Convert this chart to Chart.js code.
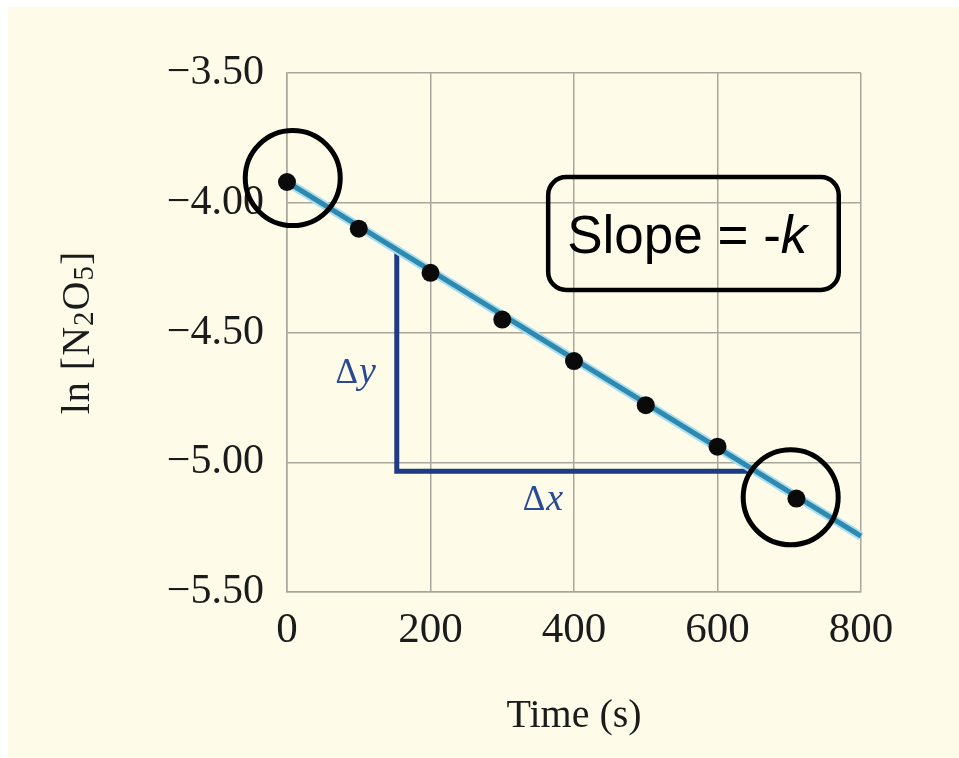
<!DOCTYPE html>
<html>
<head>
<meta charset="utf-8">
<script src="https://cdn.jsdelivr.net/npm/chart.js@4/dist/chart.umd.min.js"></script>
<style>
  html, body { margin: 0; padding: 0; background: #fefce9; overflow: hidden; }
  #wrap { width: 959px; height: 758px; }
</style>
</head>
<body>
<div id="wrap"><canvas id="c" width="959" height="758"></canvas></div>
<script>
// Measured ln[N2O5] values over time
const times = [0, 100, 200, 300, 400, 500, 600, 710];
const lnConc = [-3.92, -4.10, -4.27, -4.45, -4.61, -4.78, -4.94, -5.14];

// Straight-line fit through the data
const fitTimes = [0, 800];
const fitValues = [-3.92, -5.285];

// Rise/run triangle under the fit line
const triTimes = [153, 153, 645];
const triValues = [-4.19, -5.035, -5.035];

// Highlight rings around the first and last measurements
const ringTimes = [8, 702];
const ringValues = [-3.905, -5.135];

// Axis tick values
const xTickValues = [0, 200, 400, 600, 800];
const yTickValues = [-5.5, -5.0, -4.5, -4.0, -3.5];

const pairs = (xs, ys) => xs.map((x, i) => ({ x: x, y: ys[i] }));

const SERIF = '"Liberation Serif", "Times New Roman", serif';
const SANS = '"Liberation Sans", Arial, sans-serif';
const INK = '#1b1b1b';
const GRID = '#a9a69b';
const NAVY = '#1d3c84';

const backdrop = {
  id: 'backdrop',
  beforeDraw(chart) {
    const ctx = chart.ctx;
    ctx.save();
    ctx.fillStyle = '#ffffff';
    ctx.fillRect(0, 0, chart.width, chart.height);
    ctx.fillStyle = '#fefce9';
    ctx.fillRect(8, 7, chart.width - 8, chart.height - 7);
    ctx.restore();
  }
};

const extras = {
  id: 'extras',
  afterDraw(chart) {
    const ctx = chart.ctx;
    const xs = chart.scales.x, ys = chart.scales.y;
    const area = chart.chartArea;
    ctx.save();

    // y axis title with subscripts, rotated
    ctx.translate(78, (area.top + area.bottom) / 2);
    ctx.rotate(-Math.PI / 2);
    ctx.fillStyle = INK;
    ctx.textBaseline = 'middle';
    ctx.letterSpacing = '1px';
    const parts = [
      { t: 'ln [N', size: 40, dy: 0 },
      { t: '2', size: 29, dy: 7 },
      { t: 'O', size: 40, dy: 0 },
      { t: '5', size: 29, dy: 7 },
      { t: ']', size: 40, dy: 0 }
    ];
    let total = 0;
    parts.forEach(p => { ctx.font = p.size + 'px ' + SERIF; p.w = ctx.measureText(p.t).width; total += p.w; });
    let px = -total / 2;
    parts.forEach(p => { ctx.font = p.size + 'px ' + SERIF; ctx.textAlign = 'left'; ctx.fillText(p.t, px, p.dy); px += p.w; });
    ctx.setTransform(1, 0, 0, 1, 0, 0);
    ctx.letterSpacing = '0px';

    // x axis title
    ctx.font = '40px ' + SERIF;
    ctx.textAlign = 'center';
    ctx.textBaseline = 'middle';
    ctx.fillStyle = INK;
    ctx.fillText('Time (s)', (area.left + area.right) / 2, 716);

    // Δy and Δx labels
    const drawDelta = (t, v, letter) => {
      const cx = xs.getPixelForValue(t), cy = ys.getPixelForValue(v);
      ctx.fillStyle = '#2a4a93';
      ctx.textBaseline = 'alphabetic';
      ctx.textAlign = 'left';
      ctx.font = '35px ' + SERIF;
      const wd = ctx.measureText('\u0394').width;
      ctx.font = 'italic 38px ' + SERIF;
      const wl = ctx.measureText(letter).width;
      const x0 = cx - (wd + wl) / 2;
      ctx.font = '35px ' + SERIF;
      ctx.fillText('\u0394', x0, cy + 11);
      ctx.font = 'italic 38px ' + SERIF;
      ctx.fillText(letter, x0 + wd + 1, cy + 11);
    };
    drawDelta(95, -4.652, 'y');
    drawDelta(356, -5.142, 'x');

    // Slope callout box
    const bl = xs.getPixelForValue(364), br = xs.getPixelForValue(769);
    const bt = ys.getPixelForValue(-3.901), bb = ys.getPixelForValue(-4.336);
    ctx.beginPath();
    ctx.roundRect(bl, bt, br - bl, bb - bt, 18);
    ctx.lineWidth = 4.5;
    ctx.strokeStyle = '#000000';
    ctx.stroke();
    ctx.fillStyle = '#000000';
    ctx.textAlign = 'left';
    ctx.textBaseline = 'alphabetic';
    ctx.font = '53px ' + SANS;
    const s1 = 'Slope = -';
    const tx = bl + 19, ty = bt + 76;
    ctx.fillText(s1, tx, ty);
    const w1 = ctx.measureText(s1).width;
    ctx.font = 'italic 53px ' + SANS;
    ctx.fillText('k', tx + w1, ty);

    ctx.restore();
  }
};

new Chart(document.getElementById('c'), {
  type: 'scatter',
  data: {
    datasets: [
      {
        label: 'fit glow',
        data: pairs(fitTimes, fitValues),
        showLine: true,
        borderColor: '#a6def1',
        borderWidth: 9,
        pointRadius: 0,
        clip: false,
        order: 5
      },
      {
        label: 'fit',
        data: pairs(fitTimes, fitValues),
        showLine: true,
        borderColor: '#2f88ad',
        borderWidth: 5,
        pointRadius: 0,
        clip: false,
        order: 4
      },
      {
        label: 'triangle',
        data: pairs(triTimes, triValues),
        showLine: true,
        borderColor: NAVY,
        borderWidth: 5,
        borderJoinStyle: 'miter',
        pointRadius: 0,
        clip: false,
        order: 6
      },
      {
        label: 'ln[N2O5]',
        data: pairs(times, lnConc),
        showLine: false,
        pointRadius: 9,
        pointBackgroundColor: '#0a0a0a',
        pointBorderWidth: 0,
        clip: false,
        order: 2
      },
      {
        label: 'rings',
        data: pairs(ringTimes, ringValues),
        showLine: false,
        pointRadius: 47.5,
        pointBackgroundColor: 'rgba(0,0,0,0)',
        pointBorderColor: '#000000',
        pointBorderWidth: 5,
        clip: false,
        order: 1
      }
    ]
  },
  plugins: [backdrop, extras],
  options: {
    responsive: false,
    animation: false,
    events: [],
    layout: { padding: { left: 0, top: 73, right: 98, bottom: 0 } },
    plugins: {
      legend: { display: false },
      tooltip: { enabled: false }
    },
    scales: {
      x: {
        type: 'linear',
        min: 0,
        max: 800,
        afterFit: s => { s.height = 166; },
        afterBuildTicks: s => { s.ticks = xTickValues.map(v => ({ value: v })); },
        grid: { color: GRID, lineWidth: 1.5, drawTicks: false },
        border: { color: GRID, width: 1.5 },
        ticks: {
          padding: 13,
          color: INK,
          font: { family: SERIF, size: 43 },
          callback: v => String(v)
        }
      },
      y: {
        type: 'linear',
        min: -5.5,
        max: -3.5,
        afterFit: s => { s.width = 287; },
        afterBuildTicks: s => { s.ticks = yTickValues.map(v => ({ value: v })); },
        grid: { color: GRID, lineWidth: 1.5, drawTicks: false },
        border: { color: GRID, width: 1.5 },
        ticks: {
          padding: 23,
          color: INK,
          font: { family: SERIF, size: 42 },
          callback: v => '\u2212' + Math.abs(v).toFixed(2)
        }
      }
    }
  }
});
</script>
</body>
</html>
